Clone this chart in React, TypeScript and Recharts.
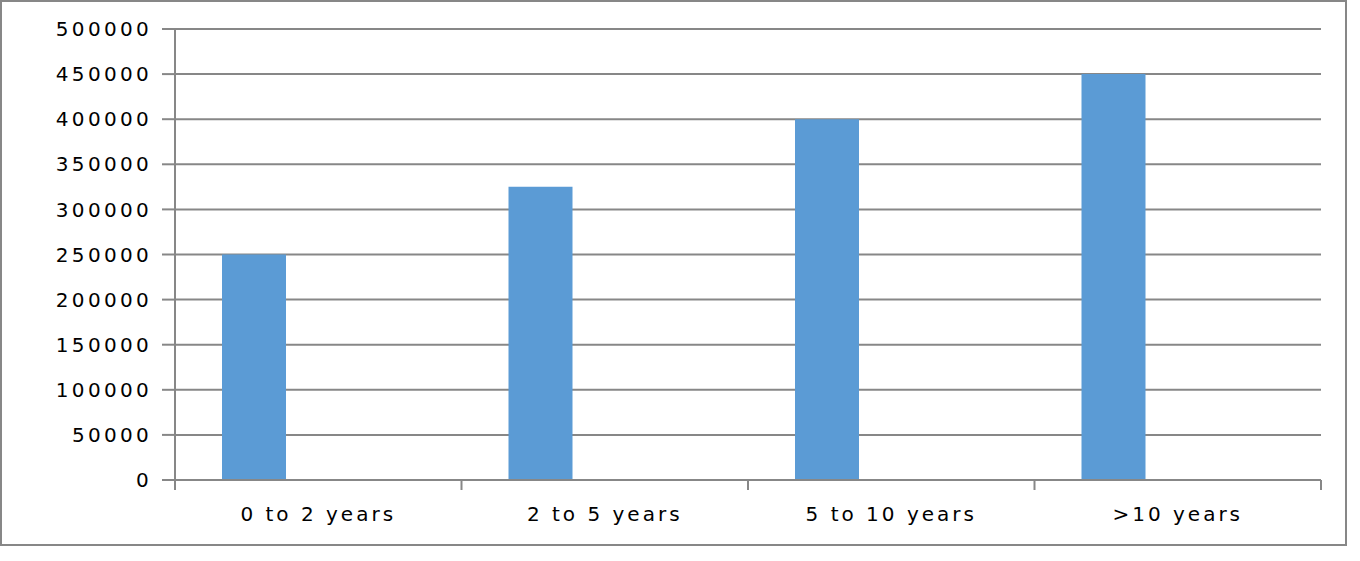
import React from "react";
import { BarChart, Bar, XAxis, YAxis, CartesianGrid } from "recharts";

const categories = ["0 to 2 years", "2 to 5 years", "5 to 10 years", ">10 years"];
const series1 = [250000, 325000, 400000, 450000];
// two empty series keep the Excel-style left-shifted bar slot
const series2 = [null, null, null, null];
const series3 = [null, null, null, null];
const yTicks = [0, 50000, 100000, 150000, 200000, 250000, 300000, 350000, 400000, 450000, 500000];

const data = categories.map((name, i) => ({
  name,
  s1: series1[i],
  s2: series2[i],
  s3: series3[i]
}));

const GRAY = "#878787";
const FONT = "'DejaVu Sans', Verdana, sans-serif";

const W = 1360;
const H = 561;
const X_H = 30;
const M = { top: 29, right: 39, bottom: 81 - X_H, left: 0 };
const Y_W = 175;
const BAND = (W - M.right - Y_W) / categories.length;

function CatTick(props: any) {
  const { x, y, payload, index } = props;
  const half = payload && payload.offset ? payload.offset : BAND / 2;
  const axisY = y - 8;
  return (
    <g>
      <line x1={x - half} x2={x - half} y1={axisY} y2={axisY + 10} stroke={GRAY} strokeWidth={2} />
      {index === categories.length - 1 && (
        <line x1={x + half} x2={x + half} y1={axisY} y2={axisY + 10} stroke={GRAY} strokeWidth={2} />
      )}
      <text
        x={x}
        y={axisY + 41}
        textAnchor="middle"
        fill="#000"
        fontFamily={FONT}
        fontSize={20}
        letterSpacing={3}
      >
        {payload.value}
      </text>
    </g>
  );
}

export default function App() {
  return (
    <div style={{ position: "absolute", left: 0, top: 0, width: W, height: H, background: "#fff" }}>
      <div
        style={{
          position: "absolute",
          left: 0,
          top: 0,
          width: 1347,
          height: 546,
          border: `2px solid ${GRAY}`,
          boxSizing: "border-box"
        }}
      />
      <BarChart
        width={W}
        height={H}
        data={data}
        margin={M}
        barCategoryGap={47}
        barGap={0}
        style={{ position: "absolute", left: 0, top: 0 }}
      >
        <CartesianGrid vertical={false} stroke={GRAY} strokeWidth={2} />
        <XAxis
          dataKey="name"
          height={X_H}
          axisLine={{ stroke: GRAY, strokeWidth: 2 }}
          tickLine={false}
          tick={<CatTick />}
          interval={0}
        />
        <YAxis
          width={Y_W}
          domain={[0, 500000]}
          ticks={yTicks}
          interval={0}
          axisLine={{ stroke: GRAY, strokeWidth: 2 }}
          tickLine={{ stroke: GRAY, strokeWidth: 2 }}
          tickSize={13}
          tickMargin={10}
          tick={{ fill: "#000", fontFamily: FONT, fontSize: 20, letterSpacing: 3.3 }}
        />
        <Bar dataKey="s1" fill="#5B9BD5" isAnimationActive={false} />
        <Bar dataKey="s2" fill="#ED7D31" isAnimationActive={false} />
        <Bar dataKey="s3" fill="#A5A5A5" isAnimationActive={false} />
      </BarChart>
    </div>
  );
}
